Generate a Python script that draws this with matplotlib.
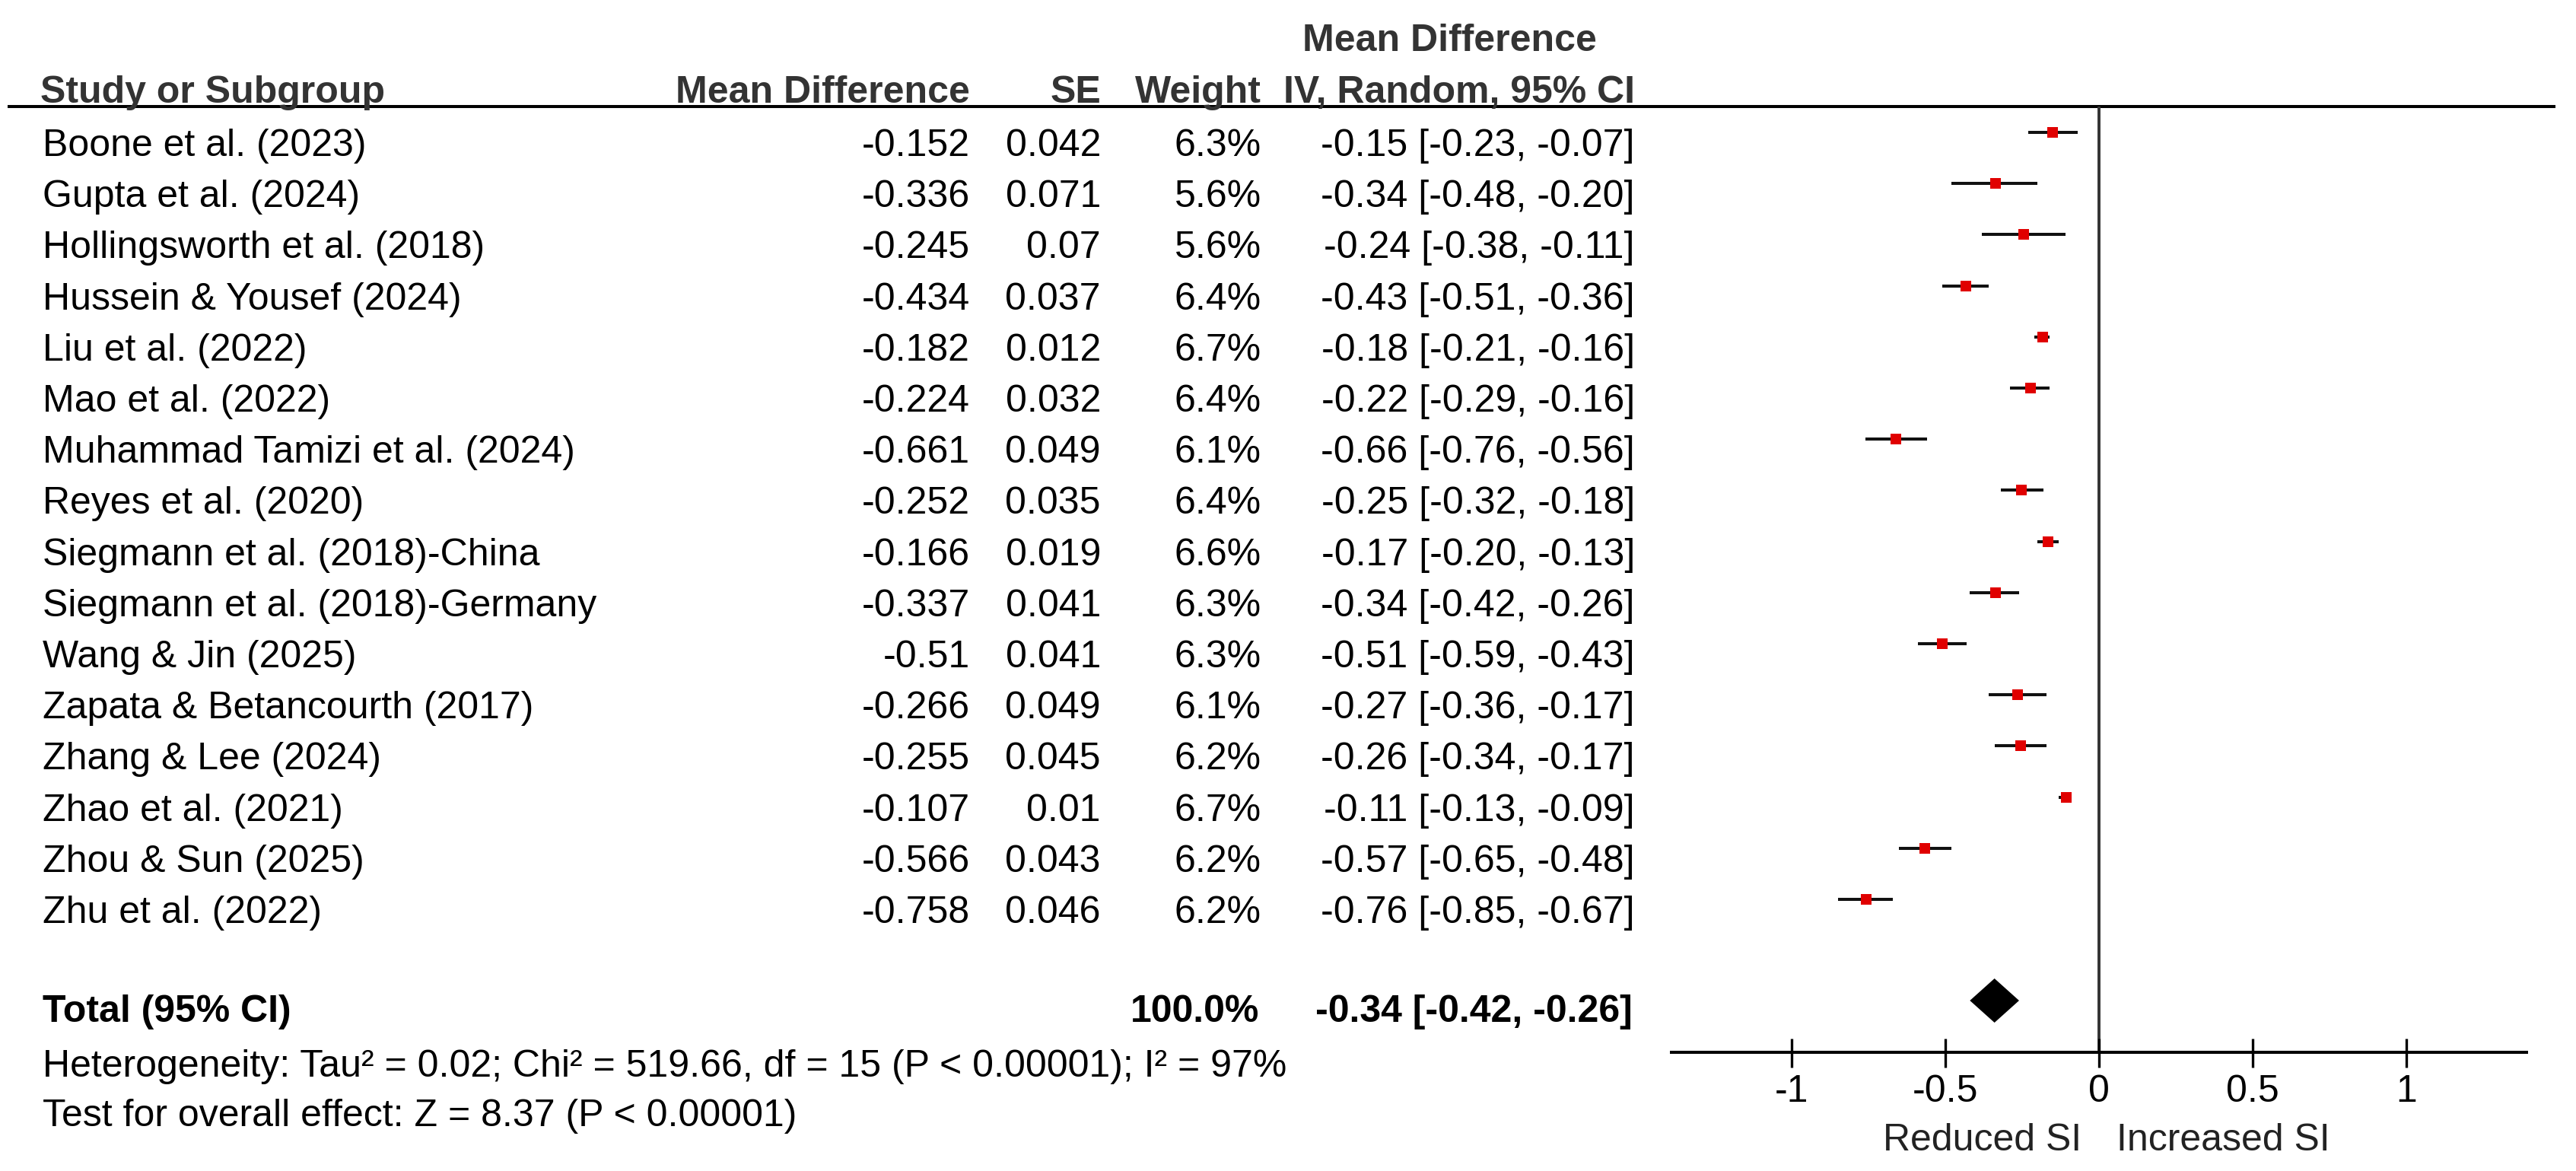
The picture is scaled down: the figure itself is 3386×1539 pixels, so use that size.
import matplotlib
matplotlib.use("Agg")
import matplotlib.pyplot as plt

plt.rcParams['font.family'] = ['Liberation Sans', 'DejaVu Sans']

studies = [
    "Boone et al. (2023)", "Gupta et al. (2024)", "Hollingsworth et al. (2018)",
    "Hussein & Yousef (2024)", "Liu et al. (2022)", "Mao et al. (2022)",
    "Muhammad Tamizi et al. (2024)", "Reyes et al. (2020)",
    "Siegmann et al. (2018)-China", "Siegmann et al. (2018)-Germany",
    "Wang & Jin (2025)", "Zapata & Betancourth (2017)", "Zhang & Lee (2024)",
    "Zhao et al. (2021)", "Zhou & Sun (2025)", "Zhu et al. (2022)",
]
md = [-0.152, -0.336, -0.245, -0.434, -0.182, -0.224, -0.661, -0.252,
      -0.166, -0.337, -0.51, -0.266, -0.255, -0.107, -0.566, -0.758]
se = [0.042, 0.071, 0.07, 0.037, 0.012, 0.032, 0.049, 0.035,
      0.019, 0.041, 0.041, 0.049, 0.045, 0.01, 0.043, 0.046]
weight = [6.3, 5.6, 5.6, 6.4, 6.7, 6.4, 6.1, 6.4, 6.6, 6.3, 6.3, 6.1, 6.2, 6.7, 6.2, 6.2]
ci_lo = [-0.23, -0.48, -0.38, -0.51, -0.21, -0.29, -0.76, -0.32,
         -0.20, -0.42, -0.59, -0.36, -0.34, -0.13, -0.65, -0.85]
ci_hi = [-0.07, -0.20, -0.11, -0.36, -0.16, -0.16, -0.56, -0.18,
         -0.13, -0.26, -0.43, -0.17, -0.17, -0.09, -0.48, -0.67]

total_weight = 100.0
total_est, total_lo, total_hi = -0.34, -0.42, -0.26
heterogeneity = "Heterogeneity: Tau² = 0.02; Chi² = 519.66, df = 15 (P < 0.00001); I² = 97%"
overall = "Test for overall effect: Z = 8.37 (P < 0.00001)"
xticks = [-1, -0.5, 0, 0.5, 1]
xticklabels = ["-1", "-0.5", "0", "0.5", "1"]

W, H = 3387, 1539
fig = plt.figure(figsize=(W / 100, H / 100), dpi=100)

# table part, in pixel coordinates
tx = fig.add_axes([0, 0, 1, 1])
tx.set_xlim(0, W)
tx.set_ylim(H, 0)
tx.axis('off')

fs = 36
hdr_col = '#333333'
red = '#e00000'

row0, step = 174, 67.2
rows = [row0 + i * step for i in range(len(studies))]
total_y = 1315
head_y = 140

# headers
tx.text(53, 135, "Study or Subgroup", fontsize=fs, fontweight='bold', color=hdr_col)
tx.text(1275, 135, "Mean Difference", fontsize=fs, fontweight='bold', color=hdr_col, ha='right')
tx.text(1447, 135, "SE", fontsize=fs, fontweight='bold', color=hdr_col, ha='right')
tx.text(1658, 135, "Weight", fontsize=fs, fontweight='bold', color=hdr_col, ha='right')
tx.text(1905, 67, "Mean Difference", fontsize=fs, fontweight='bold', color=hdr_col, ha='center')
tx.text(2149, 135, "IV, Random, 95% CI", fontsize=fs, fontweight='bold', color=hdr_col, ha='right')
tx.hlines(head_y, 10, 3359, color='black', lw=2.9)

for i, name in enumerate(studies):
    yb = rows[i] + 31
    tx.text(56, yb, name, fontsize=fs)
    tx.text(1275, yb, str(md[i]), fontsize=fs, ha='right')
    tx.text(1447, yb, str(se[i]), fontsize=fs, ha='right')
    tx.text(1658, yb, f"{weight[i]:.1f}%", fontsize=fs, ha='right')
    tx.text(2149, yb, f"{md[i]:.2f} [{ci_lo[i]:.2f}, {ci_hi[i]:.2f}]", fontsize=fs, ha='right')

tx.text(56, total_y + 28, "Total (95% CI)", fontsize=fs, fontweight='bold')
tx.text(1655, total_y + 28, f"{total_weight:.1f}%", fontsize=fs, fontweight='bold', ha='right')
tx.text(2146, total_y + 28, f"{total_est:.2f} [{total_lo:.2f}, {total_hi:.2f}]",
        fontsize=fs, fontweight='bold', ha='right')
tx.text(56, 1415, heterogeneity, fontsize=fs)
tx.text(56, 1480, overall, fontsize=fs)

# forest part: x in effect units, y in pixels
zero_px, unit_px, half = 2759, 404, 1.395
fx = fig.add_axes([(zero_px - half * unit_px) / W, 0, 2 * half * unit_px / W, 1])
fx.set_xlim(-half, half)
fx.set_ylim(H, 0)
fx.axis('off')

axis_y = 1383
fx.vlines(0, head_y, axis_y, color='#333333', lw=2.8)
fx.hlines(rows, ci_lo, ci_hi, color='#111111', lw=2.9)
fx.plot(md, rows, 's', color=red, markersize=9.4, markeredgewidth=0)

dh = 29
fx.fill([total_lo, total_est, total_hi, total_est],
        [total_y, total_y - dh, total_y, total_y + dh], color='black', lw=0)

fx.hlines(axis_y, -half, half, color='black', lw=2.9)
fx.vlines(xticks, axis_y - 18, axis_y + 20, color='black', lw=2.4)
for t, lab in zip(xticks, xticklabels):
    fx.text(t, 1448, lab, fontsize=fs, ha='center')
fx.text(-0.057, 1512, "Reduced SI", fontsize=fs, ha='right', color='#222222')
fx.text(0.057, 1512, "Increased SI", fontsize=fs, ha='left', color='#222222')

fig.savefig("out.png", dpi=100)
